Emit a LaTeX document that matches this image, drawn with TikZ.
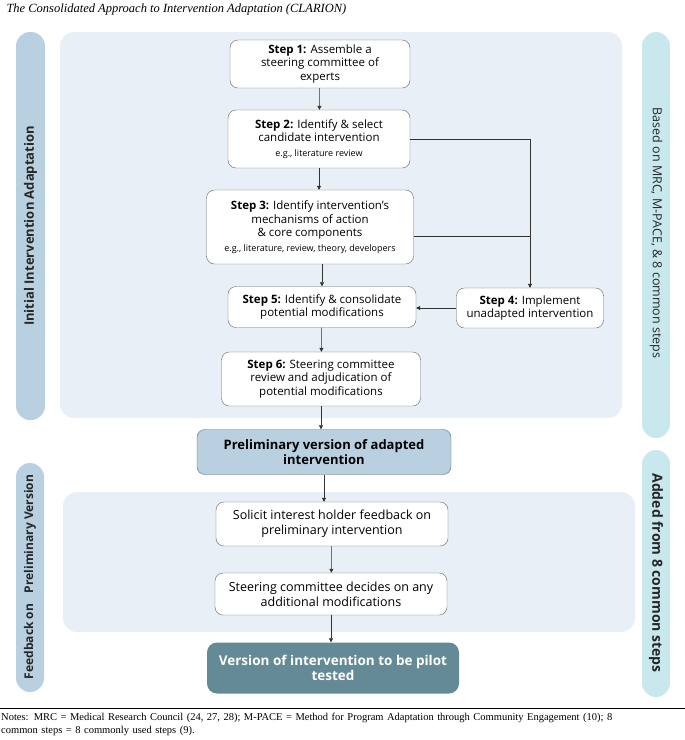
\documentclass[tikz,border=0pt]{standalone}
\usepackage{fontspec}
\setmainfont{Open Sans}
\newfontfamily\serifnotes{Liberation Serif}
\usetikzlibrary{arrows.meta}
\definecolor{barA}{HTML}{B8D0E0}
\definecolor{barB}{HTML}{C8E8EE}
\definecolor{panel}{HTML}{E8EFF6}
\definecolor{finalc}{HTML}{648A96}
\begin{document}
\begin{tikzpicture}[x=1pt,y=-1pt,
  box/.style={draw=black!60,rounded corners=8pt,fill=white,align=center,font=\fontsize{11.5}{13.5}\selectfont,inner sep=2pt},
  bar/.style={rounded corners=14pt},
  arr/.style={-{Triangle[length=4pt,width=4pt]},black!80,line width=0.5pt},
  bartxt/.style={font=\bfseries\fontsize{13}{15}\selectfont,text=black!85}]
\useasboundingbox (0,0) rectangle (685,740);
\node[anchor=west,font=\serifnotes\itshape\fontsize{12.5}{14}\selectfont] (title) at (3,9) {The Consolidated Approach to Intervention Adaptation (CLARION)};
% bars
\fill[barA,bar] (16,32) rectangle (45,420);
\node[bartxt,rotate=90] (lb1) at (30.5,226) {Initial Intervention Adaptation};
\fill[barA,bar] (16,463) rectangle (44,692);
\node[bartxt,font=\bfseries\fontsize{12}{14}\selectfont,rotate=90] (lb2) at (30,577) {Feedback on\hspace{0.9em}Preliminary Version};
\fill[barB,bar] (642,32) rectangle (670,438);
\node[bartxt,font=\fontsize{12.5}{14}\selectfont,rotate=-90] (rb1) at (656,233) {Based on MRC, M-PACE, \& 8 common steps};
\fill[barB,bar] (642,450) rectangle (670,697);
\node[bartxt,font=\bfseries\fontsize{14}{16}\selectfont,rotate=-90] (rb2) at (656,573) {Added from 8 common steps};
% panels
\fill[panel,rounded corners=14pt] (60,32) rectangle (622,418);
\fill[panel,rounded corners=14pt] (63,492) rectangle (635,632);
% boxes
\node[box,minimum width=180pt,minimum height=48pt] (s1) at (320,64) {\textbf{Step 1:} Assemble a\\steering committee of\\experts};
\node[box,minimum width=182pt,minimum height=58pt] (s2) at (319,139) {\textbf{Step 2:} Identify \& select\\candidate intervention\\[1pt]{\fontsize{9}{11}\selectfont e.g., literature review}};
\node[box,minimum width=207pt,minimum height=74pt,inner sep=1pt] (s3) at (310,227) {\textbf{Step 3:} Identify intervention's\\mechanisms of action\\\& core components\\[1pt]{\fontsize{9}{11}\selectfont e.g., literature, review, theory, developers}};
\node[box,minimum width=188pt,minimum height=41pt] (s5) at (322,307) {\textbf{Step 5:} Identify \& consolidate\\potential modifications};
\node[box,minimum width=147pt,minimum height=40pt] (s4) at (530,308) {\textbf{Step 4:} Implement\\unadapted intervention};
\node[box,minimum width=199pt,minimum height=54pt] (s6) at (321,379) {\textbf{Step 6:} Steering committee\\review and adjudication of\\potential modifications};
\node[box,fill=barA,minimum width=254pt,minimum height=45pt,font=\bfseries\fontsize{13}{15}\selectfont] (pv) at (324,452) {Preliminary version of adapted\\intervention};
\node[box,minimum width=232pt,minimum height=44pt,font=\fontsize{12.5}{15}\selectfont] (fb) at (332,524) {Solicit interest holder feedback on\\preliminary intervention};
\node[box,minimum width=232pt,minimum height=42pt,font=\fontsize{12.5}{15}\selectfont] (sc) at (331,594) {Steering committee decides on any\\additional modifications};
\node[box,draw=none,fill=finalc,text=white,rounded corners=10pt,minimum width=252pt,minimum height=51pt,font=\bfseries\fontsize{13.5}{15.5}\selectfont] (vf) at (333,668) {Version of intervention to be pilot\\tested};
% arrows
\draw[arr] (s1) -- (s2);
\draw[arr] (s2) -- (s3.north -| s2);
\draw[arr] (s3.south -| s5) -- (s5);
\draw[arr] (s5) -- (s6);
\draw[arr] (s6.south -| 321,0) -- (pv.north -| 321,0);
\draw[arr] (pv) -- (fb.north -| pv);
\draw[arr] (fb) -- (sc);
\draw[arr] (sc) -- (vf.north -| sc);
\coordinate (j) at (530,139);
\draw[arr] (s2.east) -- (j) -- (s4.north);
\draw[black!80,line width=0.5pt] (s3.east |- 0,236) -- (530,236);
\draw[arr] (s4.west) -- (s5.east |- s4.west);
% notes
\draw[line width=0.8pt] (0,708) -- (685,708);
\node[anchor=north west,align=left,text width=683pt,inner sep=0pt,font=\serifnotes\fontsize{10.5}{13}\selectfont] (notes) at (1,713) {Notes: MRC = Medical Research Council (24, 27, 28); M-PACE = Method for Program Adaptation through Community Engagement (10); 8\\common steps = 8 commonly used steps (9).};
\end{tikzpicture}
\end{document}
